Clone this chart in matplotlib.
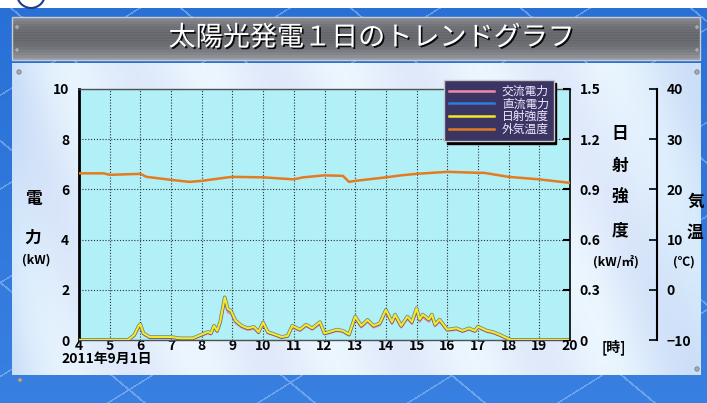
import numpy as np
import matplotlib
matplotlib.use('Agg')
import matplotlib.pyplot as plt
from matplotlib import patheffects as pe
from matplotlib.patches import Circle, Rectangle

plt.rcParams['font.family'] = ['Noto Sans CJK JP', 'DejaVu Sans']

# ---------------- data ----------------
title = '太陽光発電１日のトレンドグラフ'
date_label = '2011年9月1日'
series_names = ['交流電力', '直流電力', '日射強度', '外気温度']

hours = [4.0, 5.6, 5.8, 5.95, 6.0, 6.1, 6.3, 7.0, 7.3, 7.7,
         8.0, 8.2, 8.3, 8.4, 8.5, 8.6, 8.75, 8.85, 8.95, 9.1,
         9.3, 9.5, 9.7, 9.85, 10.0, 10.15, 10.4, 10.6, 10.8, 10.95,
         11.2, 11.4, 11.6, 11.85, 12.0, 12.15, 12.4, 12.6, 12.8, 13.0,
         13.2, 13.4, 13.6, 13.8, 14.0, 14.2, 14.3, 14.5, 14.7, 14.85,
         15.0, 15.1, 15.2, 15.4, 15.5, 15.6, 15.75, 16.0, 16.3, 16.5,
         16.7, 16.9, 17.0, 17.3, 17.5, 17.7, 18.0, 18.1, 20.0]

dc_power = [0.0, 0.0, 0.2, 0.55, 0.62, 0.25, 0.1, 0.1, 0.05, 0.05,
            0.2, 0.3, 0.25, 0.55, 0.35, 0.7, 1.7, 1.2, 1.15, 0.75,
            0.55, 0.45, 0.5, 0.3, 0.7, 0.3, 0.2, 0.1, 0.15, 0.55,
            0.4, 0.6, 0.45, 0.7, 0.25, 0.3, 0.4, 0.35, 0.2, 0.93,
            0.55, 0.8, 0.55, 0.65, 1.2, 0.7, 1.0, 0.55, 0.93, 0.7,
            1.25, 0.8, 1.0, 0.8, 1.0, 0.6, 0.8, 0.4, 0.45, 0.35,
            0.45, 0.35, 0.53, 0.35, 0.3, 0.2, 0.03, 0.0, 0.0]

ac_power = [0.0, 0.0, 0.15, 0.48, 0.55, 0.22, 0.08, 0.08, 0.04, 0.04,
            0.17, 0.27, 0.22, 0.5, 0.32, 0.64, 1.55, 1.1, 1.05, 0.68,
            0.5, 0.4, 0.45, 0.27, 0.64, 0.27, 0.17, 0.08, 0.13, 0.5,
            0.36, 0.55, 0.41, 0.64, 0.22, 0.27, 0.36, 0.32, 0.17, 0.85,
            0.5, 0.73, 0.5, 0.59, 1.1, 0.64, 0.92, 0.5, 0.85, 0.64,
            1.15, 0.73, 0.92, 0.73, 0.92, 0.55, 0.73, 0.36, 0.41, 0.32,
            0.41, 0.32, 0.48, 0.32, 0.27, 0.17, 0.02, 0.0, 0.0]

radiation = [0.0, 0.0, 0.03, 0.085, 0.095, 0.04, 0.018, 0.018, 0.01, 0.01,
             0.033, 0.048, 0.04, 0.085, 0.055, 0.108, 0.255, 0.185, 0.175, 0.115,
             0.085, 0.07, 0.078, 0.048, 0.105, 0.048, 0.032, 0.018, 0.025, 0.085,
             0.062, 0.092, 0.07, 0.107, 0.04, 0.048, 0.062, 0.055, 0.033, 0.14,
             0.085, 0.12, 0.085, 0.1, 0.18, 0.108, 0.152, 0.085, 0.14, 0.108,
             0.19, 0.122, 0.152, 0.122, 0.152, 0.092, 0.122, 0.062, 0.07, 0.055,
             0.07, 0.055, 0.08, 0.055, 0.047, 0.032, 0.006, 0.0, 0.0]

temp_hours = [4, 4.8, 5, 6, 6.2, 7, 7.6, 8, 8.85, 9, 10, 11, 11.3,
              12, 12.6, 12.8, 13, 14, 14.5, 15, 16, 17, 17.2, 18, 19, 20]
temperature = [23.2, 23.2, 22.9, 23.1, 22.5, 21.9, 21.5, 21.7, 22.4, 22.5, 22.4, 22.0, 22.4,
               22.8, 22.7, 21.5, 21.7, 22.4, 22.8, 23.1, 23.5, 23.3, 23.3, 22.5, 22.0, 21.3]

x_ticks = list(range(4, 21))
power_ticks = [0, 2, 4, 6, 8, 10]
rad_ticks = [0, 0.3, 0.6, 0.9, 1.2, 1.5]
rad_labels = ['0', '0.3', '0.6', '0.9', '1.2', '1.5']
temp_ticks = [-10, 0, 10, 20, 30, 40]

# ---------------- figure ----------------
W, H = 707, 403
fig = plt.figure(figsize=(W / 100, H / 100), dpi=100)


def fx(x):
    return x / W


def fy(y):
    return 1 - y / H


# background
bg = fig.add_axes([0, 0, 1, 1])
bg.set_zorder(-10)
bg.axis('off')
bg.set_xlim(0, W)
bg.set_ylim(H, 0)

yy, xx = np.mgrid[0:H, 0:W].astype(float)
img = np.zeros((H, W, 3))
t = yy / H
img[..., 0] = 0.16 + 0.06 * t
img[..., 1] = 0.44 + 0.06 * t
img[..., 2] = 0.84 + 0.04 * t
tiles = (((xx + 1.6 * yy) % 150) < 3) | (((xx - 1.2 * yy) % 170) < 3)
img[tiles] = img[tiles] * 0.6 + 0.4 * np.array([0.75, 0.85, 1.0])
img[yy < 8] = 1.0
pm = (xx >= 12) & (xx <= 700) & (yy >= 63) & (yy <= 374)
streak = 0.025 * np.sin((xx - 0.45 * yy) / 22.0)
shade = 0.06 * np.exp(-(xx - 12) / 35.0) + 0.05 * np.clip((xx - 600) / 100, 0, 1)
pr = 0.90 + streak - shade * 1.6
pg = 0.94 + streak - shade * 0.9
pb = 0.99 + streak * 0.3 - shade * 0.2
img[..., 0] = np.where(pm, pr, img[..., 0])
img[..., 1] = np.where(pm, pg, img[..., 1])
img[..., 2] = np.where(pm, np.clip(pb, 0, 1), img[..., 2])
tm = (xx >= 12) & (xx <= 700) & (yy >= 17) & (yy <= 60)
ty = (yy - 17) / 43.0
gray = 0.40 + 0.22 * (ty - 0.45) ** 2 * 4 / 1.2 + 0.015 * np.sin(yy * 2.3)
for c, off in enumerate([0.0, 0.01, 0.03]):
    img[..., c] = np.where(tm, np.clip(gray + off, 0, 1), img[..., c])
bg.imshow(np.clip(img, 0, 1), extent=[0, W, H, 0], aspect='auto', interpolation='bilinear')
bg.add_patch(Rectangle((12, 17), 688, 43, fill=False, ec='#c8ccd2', lw=1))
bg.add_patch(Circle((31, -6), 14, fill=False, ec='#1a3d8f', lw=1.5, clip_on=False))
for sx, sy in [(17, 27), (17, 50), (697, 27), (697, 50), (19, 72), (697, 72), (697, 369), (20, 380)]:
    bg.add_patch(Circle((sx, sy), 2.2, fc='#a8acb2', ec='#707478', lw=0.5))

fig.text(fx(372), fy(38), title, color='white', fontsize=19.5, ha='center', va='center',
         path_effects=[pe.withSimplePatchShadow(offset=(1.2, -1.2), shadow_rgbFace='black', alpha=0.9)])

# main axes
ax = fig.add_axes([fx(79), 1 - 340 / H, 491 / W, 251 / H])
ax.set_facecolor('#b2f0f8')
ax.set_xlim(4, 20)
ax.set_ylim(0, 10)
l_ac, = ax.plot(hours, ac_power, color='#f08aa8', lw=1.6)
l_dc, = ax.plot(hours, dc_power, color='#2f7de0', lw=1.6)
ax.set_xticks(x_ticks)
ax.set_yticks(power_ticks)
ax.grid(True, color='#303030', ls=(0, (1, 1.6)), lw=0.8)
ax.tick_params(axis='both', length=0, labelsize=10)
ax.tick_params(axis='y', pad=7)
ax.tick_params(axis='x', pad=-1)
for lbl in ax.get_xticklabels() + ax.get_yticklabels():
    lbl.set_fontweight('bold')
ax.spines['left'].set_color('black')
ax.spines['left'].set_linewidth(2)
for s in ['top', 'bottom']:
    ax.spines[s].set_color('#505050')
    ax.spines[s].set_linewidth(1)
ax.spines['right'].set_visible(False)

# radiation axis
ax2 = ax.twinx()
ax2.set_ylim(0, 1.5)
ax2.set_yticks(rad_ticks)
ax2.set_yticklabels(rad_labels, fontweight='bold')
ax2.tick_params(axis='y', direction='in', length=5, width=1.5, labelsize=10, pad=7)
ax2.spines['right'].set_color('black')
ax2.spines['right'].set_linewidth(1.2)
for s in ['top', 'bottom', 'left']:
    ax2.spines[s].set_visible(False)
l_rad, = ax2.plot(hours, radiation, color='#f5e82a', lw=1.6,
                  path_effects=[pe.Stroke(linewidth=2.6, foreground='#3a3a3a', alpha=0.6), pe.Normal()])

# temperature axis
ax3 = ax.twinx()
ax3.set_ylim(-10, 40)
ax3.set_yticks(temp_ticks)
ax3.spines['right'].set_position(('outward', 87 * 72 / 100))
ax3.spines['right'].set_color('black')
ax3.spines['right'].set_linewidth(1.5)
for s in ['top', 'bottom', 'left']:
    ax3.spines[s].set_visible(False)
ax3.tick_params(axis='y', direction='in', length=6, width=1.2, labelsize=10, pad=7)
for lbl in ax3.get_yticklabels():
    lbl.set_fontweight('bold')
l_tmp, = ax3.plot(temp_hours, temperature, color='#e47b1e', lw=1.8)

# axis labels
kw = dict(ha='center', va='center', fontweight='bold', color='black')
fig.text(fx(33), fy(199), '電', fontsize=12, **kw)
fig.text(fx(33), fy(238), '力', fontsize=12, **kw)
fig.text(fx(36), fy(260), '(kW)', fontsize=9, **kw)
for ch, yv in zip('日射強度', [134, 166, 198, 230]):
    fig.text(fx(620), fy(yv), ch, fontsize=12, **kw)
fig.text(fx(616), fy(262), '(kW/㎡)', fontsize=9, **kw)
fig.text(fx(696), fy(202), '気', fontsize=12, **kw)
fig.text(fx(695), fy(233), '温', fontsize=12, **kw)
fig.text(fx(684), fy(262), '(℃)', fontsize=9, **kw)
fig.text(fx(614), fy(347), '[時]', fontsize=10, **kw)
fig.text(fx(61), fy(359), date_label, fontsize=10, ha='left', va='center', fontweight='bold')

# legend
leg = fig.legend([l_ac, l_dc, l_rad, l_tmp], series_names, loc='upper left',
                 bbox_to_anchor=(fx(444), fy(80)), bbox_transform=fig.transFigure,
                 frameon=True, fancybox=False, facecolor='#3b3563', edgecolor='#c8c8c8',
                 framealpha=1, fontsize=8.5, labelspacing=-0.02, handlelength=3.8,
                 handletextpad=0.7, borderpad=0.4, borderaxespad=0, labelcolor='#f0e8ff',
                 shadow={'color': 'black', 'alpha': 1})
for h in leg.legend_handles:
    h.set_path_effects([])
    h.set_linewidth(1.8)

fig.savefig('out.png', dpi=100)
